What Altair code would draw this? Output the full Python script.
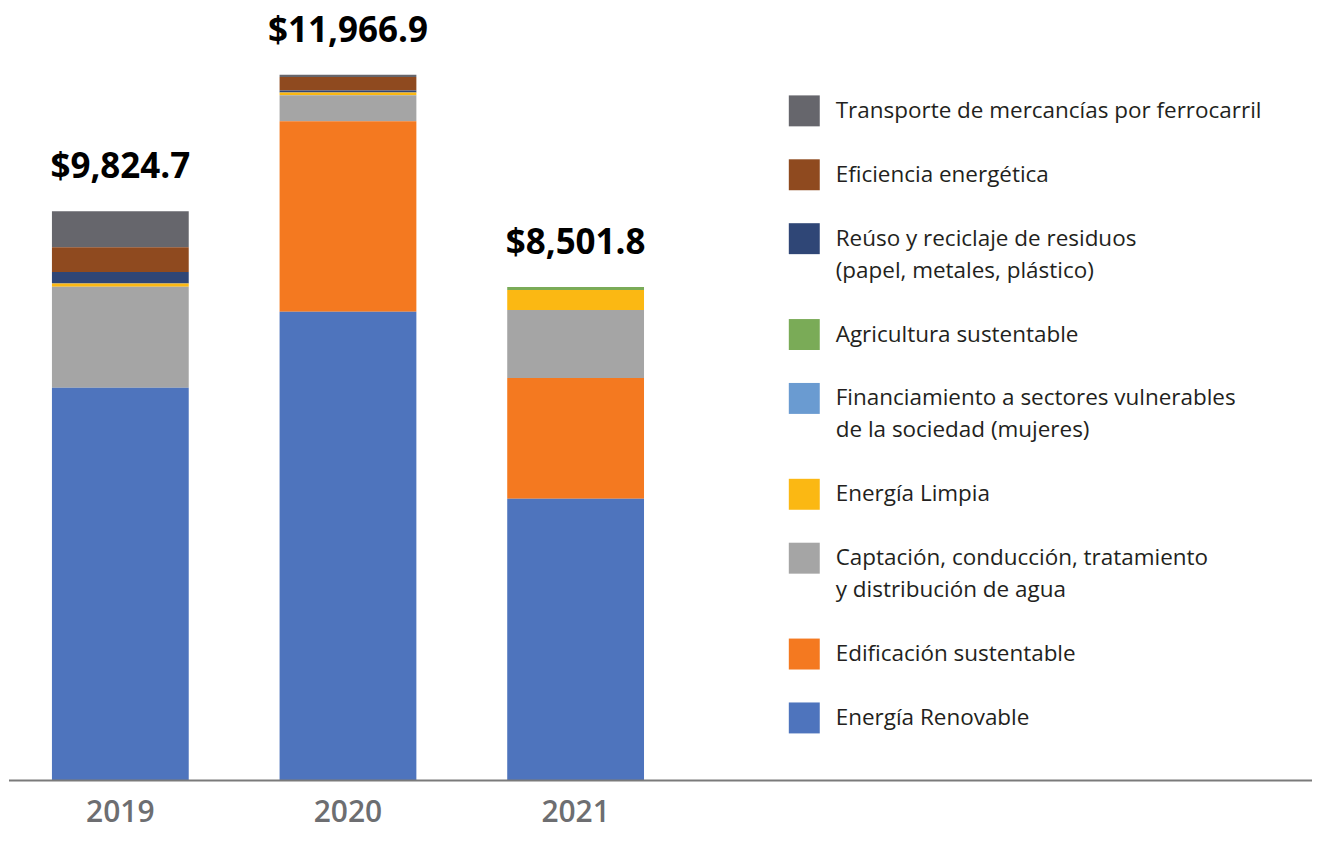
import altair as alt
import pandas as pd

years = ["2019", "2020", "2021"]
categories = [
    "Transporte de mercancías por ferrocarril",
    "Eficiencia energética",
    "Reúso y reciclaje de residuos\n(papel, metales, plástico)",
    "Agricultura sustentable",
    "Financiamiento a sectores vulnerables\nde la sociedad (mujeres)",
    "Energía Limpia",
    "Captación, conducción, tratamiento\ny distribución de agua",
    "Edificación sustentable",
    "Energía Renovable",
]
colors = ["#66666c", "#8f4a1f", "#2f4676", "#7aab57", "#6a9bd1",
          "#fbb813", "#a5a5a5", "#f47920", "#4e74bd"]

# values (millions) per year 2019, 2020, 2021
transporte = [620, 40, 0]
eficiencia = [431, 230, 0]
reuso = [195, 35, 0]
agricultura = [0, 0, 52]
financiamiento = [0, 0, 0]
limpia = [58, 50, 345]
captacion = [1741, 448, 1172]
edificacion = [0, 3287, 2085]
renovable = [6779, 8089, 4860]
totals = ["$9,824.7", "$11,966.9", "$8,501.8"]

series = [transporte, eficiencia, reuso, agricultura, financiamiento,
          limpia, captacion, edificacion, renovable]

rows = []
for ci, (cat, vals) in enumerate(zip(categories, series)):
    for yi, yr in enumerate(years):
        if vals[yi] > 0:
            rows.append({"year": yr, "cat": cat, "value": vals[yi],
                         "stack": len(categories) - 1 - ci})
bars_df = pd.DataFrame(rows)

tot_df = pd.DataFrame({
    "year": years,
    "value": [sum(s[i] for s in series) for i in range(len(years))],
    "label": totals,
})

H = 773
W1 = 679
W2 = 626
YMAX = 13320
FONT = "Open Sans"

xscale = alt.Scale(domain=years, paddingInner=0.399, paddingOuter=0.1886)
yscale = alt.Scale(domain=[0, YMAX], nice=False, zero=True)

bars = alt.Chart(bars_df).mark_bar(size=137).encode(
    x=alt.X("year:N", scale=xscale, title=None,
            axis=alt.Axis(labelAngle=0, labelFontSize=30, labelColor="#6d6e71",
                          labelFont=FONT, labelFontWeight=600, ticks=False,
                          tickSize=0, labelPadding=17, domain=False, grid=False)),
    y=alt.Y("value:Q", stack="zero", scale=yscale, axis=None),
    color=alt.Color("cat:N", scale=alt.Scale(domain=categories, range=colors), legend=None),
    order=alt.Order("stack:Q", sort="ascending"),
)

labels = alt.Chart(tot_df).mark_text(
    font=FONT, fontSize=35, fontWeight="bold", color="#000000",
    baseline="alphabetic", dy=-33
).encode(
    x=alt.X("year:N", scale=xscale),
    y=alt.Y("value:Q", scale=yscale),
    text="label:N",
)

baseline = alt.Chart(pd.DataFrame({"a": [0]})).mark_rule(color="#7a7a7a", strokeWidth=2).encode(
    x=alt.value(0), x2=alt.value(W1 + W2), y=alt.value(H)
)

left = alt.layer(bars, labels, baseline).properties(width=W1, height=H)

# legend built from the category list
PX_LINE = 32.0
leg_sw = []
leg_tx = []
slot = 3.2
for ci, cat in enumerate(categories):
    lines = cat.split("\n")
    leg_sw.append({"cat": cat, "slot": slot})
    for li, ln in enumerate(lines):
        leg_tx.append({"text": ln, "slot": slot + li})
    slot += len(lines) + 1

lscale = alt.Scale(domain=[0, H / PX_LINE], reverse=True, nice=False, zero=False)

sw = alt.Chart(pd.DataFrame(leg_sw)).mark_square(size=961, opacity=1).encode(
    x=alt.value(117.5),
    y=alt.Y("slot:Q", scale=lscale, axis=None),
    color=alt.Color("cat:N", scale=alt.Scale(domain=categories, range=colors), legend=None),
)
tx = alt.Chart(pd.DataFrame(leg_tx)).mark_text(
    font=FONT, fontSize=22.5, color="#231f20", align="left", baseline="middle"
).encode(
    x=alt.value(149),
    y=alt.Y("slot:Q", scale=lscale, axis=None),
    text="text:N",
)
right = alt.layer(sw, tx).properties(width=W2, height=H)

chart = alt.hconcat(left, right, spacing=0, bounds="flush").properties(padding=0).configure_view(
    stroke=None
)

chart.save("out.html", embed_options={"renderer": "svg", "actions": False})
